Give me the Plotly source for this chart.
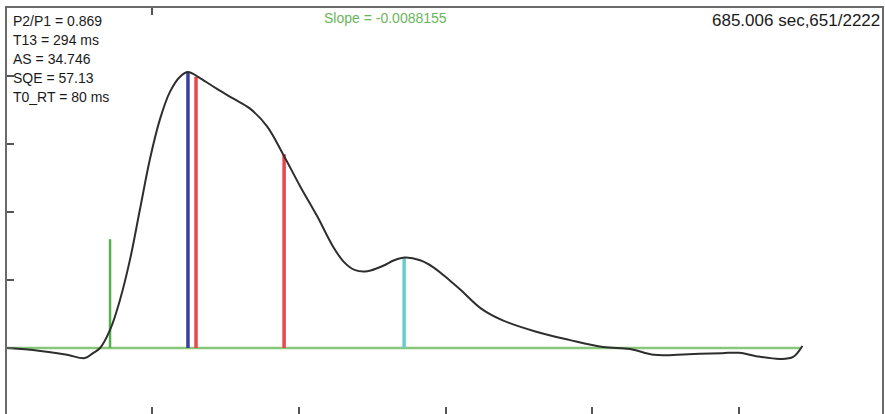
import plotly.graph_objects as go

# Pulse waveform (time in ms, amplitude in arbitrary units)
t_ms = [1.2, 18.9, 42.1, 54.3, 59.8, 64.6, 71.4, 78.2, 85.0, 91.8, 98.6, 105.5,
        112.3, 119.1, 124.5, 132.7, 144.3, 155.2, 166.8, 178.4, 189.3, 200.9,
        212.5, 223.4, 231.0, 238.0, 246.6, 257.5, 265.0, 272.5, 282.7, 291.5,
        303.1, 310.6, 324.3, 338.6, 361.8, 384.3, 407.4, 425.8, 442.2, 465.4,
        488.5, 500.1, 511.7, 528.1, 536.9, 543.1]
amp = [0.0, -0.03, -0.10, -0.148, -0.074, 0.0, 0.266, 0.709, 1.30, 2.04, 2.78, 3.37,
       3.77, 3.99, 4.06, 3.97, 3.81, 3.67, 3.52, 3.26, 2.85, 2.38,
       1.94, 1.49, 1.26, 1.15, 1.13, 1.21, 1.29, 1.33, 1.29, 1.19,
       0.99, 0.85, 0.58, 0.41, 0.24, 0.12, 0.015, -0.015, -0.10, -0.09,
       -0.075, -0.07, -0.12, -0.16, -0.13, 0.03]

# Baseline
baseline_t = [1.2, 541.5]
baseline_amp = [0.0, 0.0]

# Event markers: time, height, colour
marker_t = [71.4, 124.5, 130.0, 190.0, 271.8]
marker_top = [1.60, 4.06, 3.99, 2.85, 1.33]
marker_colors = ["#55b050", "#3b3f9c", "#e8474b", "#e8474b", "#6ccaca"]
marker_widths = [2.5, 3.5, 3.5, 3.5, 3.5]

# Axis ticks
x_ticks = [100, 200, 300, 400, 500]
x_top_ticks = [100]
y_ticks = [0, 1, 2, 3, 4]

# Readouts
stats_lines = ["P2/P1 = 0.869", "T13 = 294 ms", "AS = 34.746", "SQE = 57.13", "T0_RT = 80 ms"]
slope_text = "Slope = -0.0088155"
time_text = "685.006 sec,651/2222"

fig = go.Figure()

fig.add_trace(go.Scatter(x=baseline_t, y=baseline_amp, mode="lines",
                         line=dict(color="#86c878", width=2.5), hoverinfo="skip"))

for t, top, c, w in zip(marker_t, marker_top, marker_colors, marker_widths):
    fig.add_trace(go.Scatter(x=[t, t], y=[0, top], mode="lines",
                             line=dict(color=c, width=w), hoverinfo="skip"))

fig.add_trace(go.Scatter(x=t_ms, y=amp, mode="lines",
                         line=dict(color="#2e2e2e", width=2, shape="spline", smoothing=1.0)))

# invisible trace to carry the top axis
fig.add_trace(go.Scatter(x=[baseline_t[0]], y=[0], xaxis="x2", mode="markers",
                         marker=dict(opacity=0), hoverinfo="skip"))

font_family = "Liberation Sans, Arial, sans-serif"
annotations = []
line_y = [0.9687, 0.9212, 0.8744, 0.8276, 0.7808]
for txt, yy in zip(stats_lines, line_y):
    annotations.append(dict(text=txt, x=0.0046, y=yy, xref="paper", yref="paper",
                            xanchor="left", yanchor="middle", showarrow=False,
                            font=dict(family=font_family, size=14, color="#1a1a1a")))
annotations.append(dict(text=slope_text, x=0.433, y=0.976, xref="paper", yref="paper",
                        xanchor="center", yanchor="middle", showarrow=False,
                        font=dict(family=font_family, size=14, color="#6ab55c")))
annotations.append(dict(text=time_text, x=1.0, y=0.9704, xref="paper", yref="paper",
                        xanchor="right", yanchor="middle", showarrow=False,
                        font=dict(family=font_family, size=17, color="#1a1a1a")))

fig.update_layout(
    width=885, height=414,
    margin=dict(l=7, r=3, t=8, b=0),
    paper_bgcolor="white", plot_bgcolor="white",
    showlegend=False,
    annotations=annotations,
    xaxis=dict(range=[1.2, 597.4], tickvals=x_ticks, ticks="inside", ticklen=7,
               tickwidth=1.5, tickcolor="#555555", showticklabels=False,
               showgrid=False, zeroline=False, showline=False),
    xaxis2=dict(overlaying="x", side="top", matches="x", tickvals=x_top_ticks,
                ticks="inside", ticklen=7, tickwidth=1.5, tickcolor="#555555",
                showticklabels=False, showgrid=False, zeroline=False,
                showline=True, linecolor="#6a6a6a", linewidth=2),
    yaxis=dict(range=[-0.97, 5.0], tickvals=y_ticks, ticks="inside", ticklen=7,
               tickwidth=1.5, tickcolor="#555555", showticklabels=False,
               showgrid=False, zeroline=False, showline=True, mirror=True,
               linecolor="#6a6a6a", linewidth=2),
)

fig.write_html("out.html")
